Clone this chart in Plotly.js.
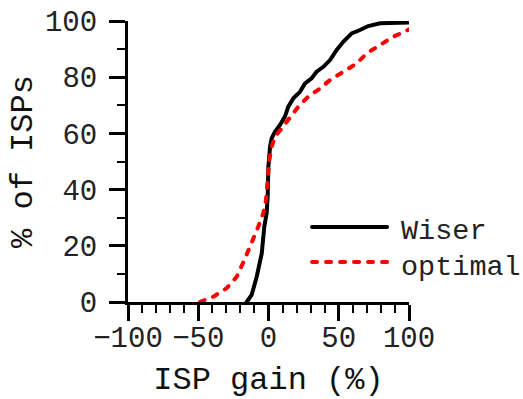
<!DOCTYPE html>
<html>
<head>
<meta charset="utf-8">
<script src="https://cdn.plot.ly/plotly-3.0.1.min.js"></script>
<style>
html,body{margin:0;padding:0;background:#fff;}
#chart{width:523px;height:399px;}
#chart .scatterlayer .js-line, #chart .shapelayer path{stroke-linecap:round;}
</style>
</head>
<body>
<div id="chart"></div>
<script>
const wiserX = [-15.5, -12, -8.4, -4.8, -3, -1.3, -0.6, -0.1, 1.1, 2.3, 4.6, 8.2, 11.7, 14.1, 17.7, 22.4, 26, 30.7, 34.3, 39, 43.8, 48.5, 53.2, 59.2, 65.1, 71, 79.4, 88.8, 100];
const wiserY = [0, 2.5, 9, 17.3, 26.8, 31.6, 37.5, 48, 55.3, 58.3, 60.6, 63, 66, 69.5, 72.5, 74.8, 77.8, 79.6, 82, 83.7, 86.1, 89.7, 92.6, 95.6, 96.8, 98.2, 99.2, 99.4, 99.5];
const optimalX = [-48.8, -39.3, -29.8, -22.6, -16.7, -12, -7.3, -3.7, -1.8, -0.6, 0.6, 2.3, 4.6, 9.4, 15.3, 21.2, 28.3, 36.7, 43.8, 53.2, 62.8, 69.9, 79.4, 88.8, 100];
const optimalY = [0, 1.9, 4.9, 9, 15.5, 20.9, 26.8, 31.6, 36.3, 43.4, 50.5, 55.3, 58.8, 61.8, 65.4, 69.5, 73.1, 76, 79, 82, 84.9, 88.5, 91.5, 94.4, 97];
const seriesNames = ['Wiser', 'optimal'];
const xTickVals = [-100, -50, 0, 50, 100];
const yTickVals = [0, 20, 40, 60, 80, 100];

const FONT = '"Liberation Mono", "Courier New", monospace';

const traces = [
  {x: wiserX, y: wiserY, name: seriesNames[0], mode: 'lines', line: {color: '#000', width: 4}},
  {x: optimalX, y: optimalY, name: seriesNames[1], mode: 'lines', line: {color: '#ff0000', width: 4, dash: '5px,9px'}}
];

const axisCommon = {
  showgrid: false, zeroline: false, showline: true, linecolor: '#000', linewidth: 3,
  ticks: 'outside', ticklen: 16, tickwidth: 3, tickcolor: '#000',
  tickfont: {family: FONT, size: 29, color: '#222'},
  minor: {ticks: 'outside', ticklen: 8, tickwidth: 2, tickcolor: '#000', dtick: 10}
};

const layout = {
  width: 523, height: 399,
  margin: {l: 128, r: 114, t: 21, b: 97},
  paper_bgcolor: '#fff', plot_bgcolor: '#fff',
  showlegend: false,
  font: {family: FONT, color: '#000'},
  xaxis: Object.assign({}, axisCommon, {
    range: [-100, 100], tickvals: xTickVals, ticktext: xTickVals.map(v => v < 0 ? '\u2212' + Math.abs(v) : String(v)),
    ticklabelstandoff: -9,
    title: {text: 'ISP gain (%)', font: {family: FONT, size: 32, color: '#111'}, standoff: 26}
  }),
  yaxis: Object.assign({}, axisCommon, {
    range: [0, 100], tickvals: yTickVals,
    ticklabelstandoff: 6,
    title: {text: '% of ISPs', font: {family: FONT, size: 32, color: '#111'}, standoff: 3}
  }),
  shapes: [
    {type: 'line', xref: 'paper', yref: 'paper', x0: 0.655, x1: 0.922, y0: 0.267, y1: 0.267, line: {color: '#000', width: 4}},
    {type: 'line', xref: 'paper', yref: 'paper', x0: 0.655, x1: 0.922, y0: 0.142, y1: 0.142, line: {color: '#ff0000', width: 4, dash: '5px,9px'}}
  ],
  annotations: [
    {xref: 'paper', yref: 'paper', x: 0.963, y: 0.267, yshift: -5, xanchor: 'left', yanchor: 'middle', showarrow: false, text: seriesNames[0], font: {family: FONT, size: 28.5, color: '#222'}},
    {xref: 'paper', yref: 'paper', x: 0.963, y: 0.142, yshift: -5, xanchor: 'left', yanchor: 'middle', showarrow: false, text: seriesNames[1], font: {family: FONT, size: 28.5, color: '#222'}}
  ]
};

Plotly.newPlot('chart', traces, layout, {displayModeBar: false, staticPlot: true});
</script>
</body>
</html>
